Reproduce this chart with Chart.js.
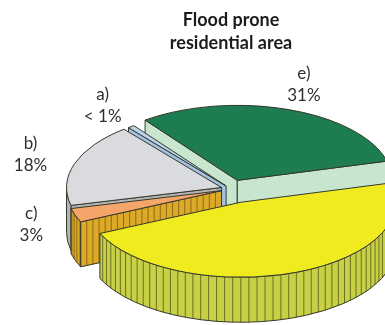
<!DOCTYPE html>
<html>
<head>
<meta charset="utf-8">
<script src="https://cdn.jsdelivr.net/npm/chart.js@4/dist/chart.umd.min.js"></script>
<style>
  html, body { margin: 0; padding: 0; background: #fff; }
  #contenitore { width: 385px; height: 325px; overflow: hidden; }
</style>
</head>
<body>
<div id="contenitore"><canvas id="torta" width="385" height="325"></canvas></div>
<script>
// Fette in senso orario a partire dal bordo in alto a sinistra di e)
const etichette = ["e)", "d)", "c)", "b)", "a)"];
const percentuali = [31, 47.3, 3, 18, 0.7];
const testiValori = ["31%", null, "3%", "18%", "< 1%"];
const titolo = ["Flood prone", "residential area"];

// Aspetto
const coloriSopra = ["#1e7d50", "#f0eb1e", "#f5a569", "#dadbde", "#b9d3ec"];
const coloriLato = ["#c8e6cd", "#c8d046", "#dcaa28", "#b4b4b4", "#a3c2e3"];
const coloriRighe = [null, "#6d7020", "#8e6a12", null, null];
const distacco = [19, 29, 10, 10, 8];
const SCHIACCIA = 0.484;   // rapporto asse verticale / orizzontale
const SPESSORE = 45;       // altezza del bordo in px
const BORDO = "#35382c";

function geometriaFette(chart) {
  const archi = chart.getDatasetMeta(0).data;
  return archi.map(function (arco, i) {
    const meta = (arco.startAngle + arco.endAngle) / 2;
    const tx = Math.cos(meta) * distacco[i];
    const ty = Math.sin(meta) * distacco[i];
    return {
      arco: arco,
      i: i,
      meta: meta,
      tx: tx,
      ty: ty,
      cx: arco.x + tx,
      cy: arco.y + ty * SCHIACCIA,
      rx: arco.outerRadius,
      ry: arco.outerRadius * SCHIACCIA,
      a0: arco.startAngle,
      a1: arco.endAngle
    };
  });
}

function puntoBordo(f, ang) {
  return { x: f.cx + f.rx * Math.cos(ang), y: f.cy + f.ry * Math.sin(ang) };
}

function facciaRadiale(ctx, f, ang) {
  const p = puntoBordo(f, ang);
  ctx.beginPath();
  ctx.moveTo(f.cx, f.cy);
  ctx.lineTo(p.x, p.y);
  ctx.lineTo(p.x, p.y + SPESSORE);
  ctx.lineTo(f.cx, f.cy + SPESSORE);
  ctx.closePath();
  ctx.fillStyle = coloriLato[f.i];
  ctx.fill();
  if (coloriRighe[f.i]) {
    const n = Math.floor(Math.abs(p.x - f.cx) / 6);
    ctx.beginPath();
    for (let k = 1; k < n; k++) {
      const s = k / n;
      const x = f.cx + (p.x - f.cx) * s;
      const y = f.cy + (p.y - f.cy) * s;
      ctx.moveTo(x, y);
      ctx.lineTo(x, y + SPESSORE);
    }
    ctx.strokeStyle = coloriRighe[f.i];
    ctx.stroke();
  }
  ctx.beginPath();
  ctx.moveTo(f.cx, f.cy);
  ctx.lineTo(p.x, p.y);
  ctx.lineTo(p.x, p.y + SPESSORE);
  ctx.lineTo(f.cx, f.cy + SPESSORE);
  ctx.closePath();
  ctx.strokeStyle = BORDO;
  ctx.stroke();
}

function facciaEsterna(ctx, f, da, a) {
  ctx.beginPath();
  ctx.ellipse(f.cx, f.cy, f.rx, f.ry, 0, da, a);
  ctx.ellipse(f.cx, f.cy + SPESSORE, f.rx, f.ry, 0, a, da, true);
  ctx.closePath();
  ctx.fillStyle = coloriLato[f.i];
  ctx.fill();
  if (coloriRighe[f.i]) {
    const passo = 3 * Math.PI / 180;
    ctx.beginPath();
    for (let t = Math.ceil(da / passo) * passo; t < a; t += passo) {
      const p = puntoBordo(f, t);
      ctx.moveTo(p.x, p.y);
      ctx.lineTo(p.x, p.y + SPESSORE);
    }
    ctx.strokeStyle = coloriRighe[f.i];
    ctx.stroke();
  }
  ctx.beginPath();
  ctx.ellipse(f.cx, f.cy, f.rx, f.ry, 0, da, a);
  ctx.ellipse(f.cx, f.cy + SPESSORE, f.rx, f.ry, 0, a, da, true);
  ctx.closePath();
  ctx.strokeStyle = BORDO;
  ctx.stroke();
}

function disegnaFetta(ctx, f) {
  ctx.save();
  ctx.lineWidth = 1;
  ctx.lineJoin = "round";

  // facce radiali rivolte verso chi guarda
  if (Math.sin(f.a0 - Math.PI / 2) > 0) facciaRadiale(ctx, f, f.a0);
  if (Math.sin(f.a1 + Math.PI / 2) > 0) facciaRadiale(ctx, f, f.a1);

  // parte anteriore del bordo curvo
  const giro = 2 * Math.PI;
  for (let k = Math.floor(f.a0 / giro) - 1; k <= Math.floor(f.a1 / giro) + 1; k++) {
    const da = Math.max(f.a0, k * giro);
    const a = Math.min(f.a1, k * giro + Math.PI);
    if (a > da) facciaEsterna(ctx, f, da, a);
  }

  // piano superiore disegnato dall'arco di Chart.js, schiacciato
  ctx.save();
  ctx.translate(0, f.arco.y);
  ctx.scale(1, SCHIACCIA);
  ctx.translate(f.tx, -f.arco.y + f.ty);
  f.arco.draw(ctx);
  ctx.restore();

  const p0 = puntoBordo(f, f.a0);
  ctx.beginPath();
  ctx.moveTo(f.cx, f.cy);
  ctx.lineTo(p0.x, p0.y);
  ctx.ellipse(f.cx, f.cy, f.rx, f.ry, 0, f.a0, f.a1);
  ctx.closePath();
  ctx.strokeStyle = BORDO;
  ctx.stroke();
  ctx.restore();
}

const torta3d = {
  id: "torta3d",
  beforeDatasetsDraw(chart) {
    const fette = geometriaFette(chart);
    // dal fondo verso il davanti
    fette.sort(function (p, q) { return Math.sin(p.meta) - Math.sin(q.meta); });
    fette.forEach(function (f) { disegnaFetta(chart.ctx, f); });
    return false;
  },
  afterDraw(chart) {
    const ctx = chart.ctx;
    ctx.save();
    ctx.font = "17px Lato";
    ctx.fillStyle = "#2f2f2f";
    ctx.textAlign = "center";
    ctx.textBaseline = "middle";
    geometriaFette(chart).forEach(function (f) {
      if (!testiValori[f.i]) return;
      const x = f.cx + 1.3 * f.rx * Math.cos(f.meta);
      const y = f.cy + 1.36 * f.ry * Math.sin(f.meta);
      ctx.fillText(etichette[f.i], x, y - 11);
      ctx.fillText(testiValori[f.i], x, y + 11);
    });
    ctx.restore();
  }
};

new Chart(document.getElementById("torta"), {
  type: "pie",
  data: {
    labels: etichette,
    datasets: [{
      data: percentuali,
      backgroundColor: coloriSopra,
      borderWidth: 0
    }]
  },
  options: {
    responsive: false,
    animation: false,
    rotation: 323.5,
    radius: 155,
    layout: { padding: { left: 77, right: 0, top: 0, bottom: 2 } },
    plugins: {
      legend: { display: false },
      tooltip: { enabled: false },
      title: {
        display: true,
        text: titolo,
        color: "#1c1c1c",
        font: { family: "Lato", size: 18, weight: "bold", lineHeight: 1.28 },
        padding: { top: 9, bottom: 0 }
      }
    }
  },
  plugins: [torta3d]
});
</script>
</body>
</html>
